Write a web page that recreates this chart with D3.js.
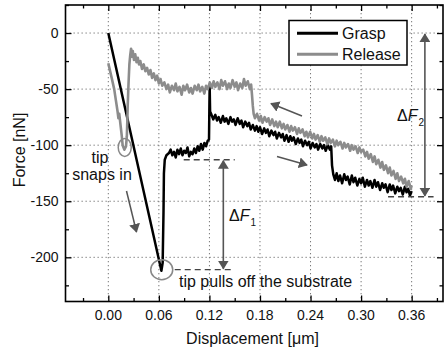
<!DOCTYPE html>
<html><head><meta charset="utf-8">
<script src="https://cdn.jsdelivr.net/npm/d3@7"></script>
<style>
body{margin:0;background:#fff;}
text{font-family:"Liberation Sans",Arial,sans-serif;fill:#111;}
</style></head>
<body>
<svg id="c" width="445" height="353"></svg>
<script>
// ---- data ----
const xTicks = [0.00, 0.06, 0.12, 0.18, 0.24, 0.30, 0.36];
const xMinorTicks = [-0.03, 0.03, 0.09, 0.15, 0.21, 0.27, 0.33, 0.39];
const yTicks = [0, -50, -100, -150, -200];
const yMinorTicks = [25, -25, -75, -125, -175, -225];
const seriesNames = ["Grasp", "Release"];
const seriesColors = ["#000000", "#8c8c8c"];

const graspData = [
 [0,0],[0.063,-212],[0.0645,-205],[0.0655,-160],[0.066,-125],[0.067,-113],[0.069,-109],
 [0.072,-107],[0.074,-104],[0.076,-109],[0.078,-106],[0.080,-111],[0.082,-104],[0.084,-108],[0.086,-103],
 [0.088,-109],[0.090,-105],[0.092,-107],[0.094,-102],[0.096,-110],[0.098,-106],[0.100,-108],[0.102,-103],
 [0.104,-107],[0.106,-101],[0.108,-105],[0.110,-99],[0.112,-104],[0.114,-98],[0.116,-101],[0.118,-96],
 [0.1195,-95],[0.1200,-62],[0.1203,-48],[0.1208,-70],
 [0.122,-72],[0.1245,-77],[0.127,-73],[0.129,-78],[0.131,-75],[0.1335,-80],[0.136,-74],[0.138,-79],
 [0.140,-76],[0.1425,-81],[0.145,-75],[0.147,-79],[0.149,-77],[0.151,-82],[0.1535,-76],[0.156,-81],
 [0.158,-78],[0.160,-84],[0.1625,-79],[0.165,-83],[0.167,-80],[0.169,-86],[0.1715,-82],[0.174,-87],
 [0.176,-83],[0.178,-88],[0.180,-84],[0.1825,-90],[0.185,-85],[0.187,-89],[0.189,-86],[0.191,-92],
 [0.1935,-87],[0.196,-91],[0.198,-88],[0.200,-94],[0.2025,-89],[0.205,-93],[0.207,-90],[0.209,-96],
 [0.2115,-91],[0.214,-97],[0.216,-92],[0.218,-96],[0.220,-93],[0.2225,-99],[0.225,-94],[0.227,-98],
 [0.229,-95],[0.231,-101],[0.2335,-96],[0.236,-100],[0.238,-97],[0.240,-103],[0.2425,-98],[0.245,-102],
 [0.247,-99],[0.249,-104],[0.2515,-99],[0.254,-103],[0.256,-100],[0.258,-105],[0.2605,-100],[0.263,-104],
 [0.2645,-101],
 [0.2655,-118],[0.267,-126],[0.269,-131],[0.271,-125],[0.273,-132],[0.275,-127],[0.2775,-134],[0.280,-126],
 [0.282,-131],[0.284,-128],[0.2865,-135],[0.289,-127],[0.291,-133],[0.293,-129],[0.2955,-136],[0.298,-130],
 [0.300,-134],[0.302,-129],[0.3045,-137],[0.307,-131],[0.309,-136],[0.311,-132],[0.3135,-138],[0.316,-131],
 [0.318,-137],[0.320,-133],[0.3225,-140],[0.325,-134],[0.327,-138],[0.329,-135],[0.3315,-142],[0.334,-135],
 [0.336,-140],[0.338,-136],[0.3405,-143],[0.343,-137],[0.345,-141],[0.347,-138],[0.3495,-144],[0.352,-137],
 [0.354,-142],[0.356,-139],[0.358,-145],[0.360,-141]
];

const releaseData = [
 [0,-27],[0.004,-40],[0.007,-50],[0.009,-60],[0.011,-70],[0.012,-76],[0.013,-72],[0.0145,-82],
 [0.016,-92],[0.017,-100],[0.019,-104],[0.021,-101],[0.022,-92],[0.0225,-80],[0.023,-65],[0.024,-45],
 [0.025,-28],[0.026,-20],[0.027,-14],[0.028,-21],[0.029,-16],[0.0305,-24],[0.032,-19],[0.0335,-26],
 [0.035,-22],[0.0365,-28],[0.038,-25],[0.040,-32],[0.042,-28],[0.044,-34],[0.046,-31],[0.048,-37],
 [0.050,-33],[0.052,-40],[0.054,-36],[0.056,-42],[0.058,-38],[0.060,-45],[0.062,-41],
 [0.064,-47],[0.0665,-44],[0.069,-50],[0.071,-46],[0.073,-53],[0.0755,-47],[0.078,-51],[0.080,-45],
 [0.082,-52],[0.0845,-48],[0.087,-55],[0.089,-47],[0.091,-51],[0.0935,-46],[0.096,-53],[0.098,-49],
 [0.100,-54],[0.1025,-47],[0.105,-51],[0.107,-46],[0.109,-52],[0.1115,-48],[0.114,-54],[0.116,-47],
 [0.118,-50],[0.1205,-44],[0.123,-49],[0.125,-43],[0.127,-48],[0.1295,-44],[0.132,-50],[0.134,-42],
 [0.136,-47],[0.1385,-43],[0.141,-50],[0.143,-45],[0.145,-49],[0.1475,-42],[0.150,-48],[0.152,-44],
 [0.154,-51],[0.1565,-45],[0.159,-49],[0.161,-41],[0.163,-47],[0.1655,-43],[0.168,-50],[0.1695,-46],
 [0.1705,-55],[0.1715,-65],[0.1725,-72],
 [0.174,-76],[0.1765,-72],[0.179,-78],[0.181,-74],[0.183,-80],[0.1855,-75],[0.188,-79],[0.190,-76],
 [0.192,-82],[0.1945,-77],[0.197,-83],[0.199,-79],[0.201,-84],[0.2035,-79],[0.206,-85],[0.208,-81],
 [0.210,-86],[0.2125,-82],[0.215,-88],[0.217,-83],[0.219,-87],[0.2215,-84],[0.224,-90],[0.226,-85],
 [0.228,-89],[0.2305,-86],[0.233,-92],[0.235,-88],[0.237,-93],[0.2395,-88],[0.242,-94],[0.244,-90],
 [0.246,-95],[0.2485,-91],[0.251,-97],[0.253,-92],[0.255,-96],[0.2575,-93],[0.260,-99],[0.262,-94],
 [0.264,-98],[0.2665,-95],[0.269,-101],[0.271,-96],[0.273,-100],[0.2755,-97],[0.278,-103],[0.280,-98],
 [0.282,-102],[0.2845,-99],[0.287,-105],[0.289,-100],[0.291,-104],[0.2935,-101],[0.296,-107],[0.298,-102],
 [0.300,-106],[0.3025,-104],[0.305,-110],[0.307,-106],[0.309,-112],[0.3115,-108],[0.314,-115],[0.316,-110],
 [0.318,-117],[0.3205,-113],[0.323,-120],[0.325,-115],[0.327,-122],[0.3295,-118],[0.332,-125],[0.334,-120],
 [0.336,-127],[0.3385,-123],[0.341,-130],[0.343,-125],[0.345,-132],[0.3475,-128],[0.350,-134],[0.352,-130],
 [0.354,-137],[0.3565,-132],[0.359,-139],[0.360,-136]
];

// annotation anchor values (data units)
const snapPoint = [0.0195, -102];
const pullPoint = [0.0634, -211];
const dF1 = {x: 0.1365, top: -113, bottom: -211, dashFrom: 0.080, dashTo: 0.150};
const dF2 = {x: 0.3757, top: 0, bottom: -146, dashFrom: 0.332, dashTo: 0.386};

// ---- layout ----
const svg = d3.select("#c");
const L = 65.5, R = 443, T = 5, B = 301.5;
const x = d3.scaleLinear().domain([-0.0508, 0.3972]).range([L, R]);
const y = d3.scaleLinear().domain([-239.4, 25]).range([B, T]);

// defs: arrowhead
const defs = svg.append("defs");
defs.append("marker").attr("id","ah2").attr("viewBox","0 0 10 10").attr("refX",9).attr("refY",5)
  .attr("markerWidth",9).attr("markerHeight",11).attr("orient","auto-start-reverse")
  .attr("markerUnits","userSpaceOnUse").attr("preserveAspectRatio","none")
  .append("path").attr("d","M0,0 L10,5 L0,10 Z").attr("fill","#555");

// grid
const grid = svg.append("g").attr("stroke","#777").attr("stroke-width",1).attr("stroke-dasharray","1.3,2.7");
grid.selectAll(".gx").data(xTicks).join("line")
  .attr("x1",d=>x(d)).attr("x2",d=>x(d)).attr("y1",T).attr("y2",B);
grid.selectAll(".gy").data(yTicks).join("line")
  .attr("y1",d=>y(d)).attr("y2",d=>y(d)).attr("x1",L).attr("x2",R);

// axes (ticks inward on all sides)
function tickAxis(axisGen, ticks, size){ return axisGen.tickValues(ticks).tickSize(size).tickFormat(""); }
const gB = svg.append("g").attr("transform",`translate(0,${B})`);
gB.call(tickAxis(d3.axisTop(x), xTicks, 6));
gB.append("g").call(tickAxis(d3.axisTop(x), xMinorTicks, 3.5));
const gT = svg.append("g").attr("transform",`translate(0,${T})`);
gT.call(tickAxis(d3.axisBottom(x), xTicks, 6));
gT.append("g").call(tickAxis(d3.axisBottom(x), xMinorTicks, 3.5));
const gL = svg.append("g").attr("transform",`translate(${L},0)`);
gL.call(tickAxis(d3.axisRight(y), yTicks, 6));
gL.append("g").call(tickAxis(d3.axisRight(y), yMinorTicks, 3.5));
const gR = svg.append("g").attr("transform",`translate(${R},0)`);
gR.call(tickAxis(d3.axisLeft(y), yTicks, 6));
gR.append("g").call(tickAxis(d3.axisLeft(y), yMinorTicks, 3.5));
svg.selectAll(".domain").remove();
svg.selectAll(".tick line").attr("stroke","#000").attr("stroke-width",1.3);

// tick labels
svg.append("g").selectAll("text").data(xTicks).join("text")
  .attr("x",d=>x(d)).attr("y",320).attr("text-anchor","middle").attr("font-size",14)
  .text(d=>d3.format(".2f")(d));
svg.append("g").selectAll("text").data(yTicks).join("text")
  .attr("x",58.5).attr("y",d=>y(d)+5).attr("text-anchor","end").attr("font-size",14)
  .text(d=>d);

// frame
svg.append("rect").attr("x",L).attr("y",T).attr("width",R-L).attr("height",B-T)
  .attr("fill","none").attr("stroke","#000").attr("stroke-width",1.6);

// axis titles
svg.append("text").attr("x",252.5).attr("y",344).attr("text-anchor","middle").attr("font-size",16)
  .text("Displacement [μm]");
svg.append("text").attr("transform","translate(25,150) rotate(-90)").attr("text-anchor","middle")
  .attr("font-size",16).text("Force [nN]");

// series
const line = d3.line().x(d=>x(d[0])).y(d=>y(d[1]));
svg.append("path").datum(graspData).attr("d",line).attr("fill","none")
  .attr("stroke",seriesColors[0]).attr("stroke-width",2.5).attr("stroke-linejoin","round");
svg.append("path").datum(releaseData).attr("d",line).attr("fill","none")
  .attr("stroke",seriesColors[1]).attr("stroke-width",2.6).attr("stroke-linejoin","round");

// annotations
const ann = svg.append("g");
ann.append("ellipse").attr("cx",x(snapPoint[0])).attr("cy",y(snapPoint[1])).attr("rx",6.5).attr("ry",9)
  .attr("fill","none").attr("stroke","#888").attr("stroke-width",1.5);
ann.append("ellipse").attr("cx",x(pullPoint[0])).attr("cy",y(pullPoint[1])).attr("rx",11).attr("ry",10)
  .attr("fill","none").attr("stroke","#888").attr("stroke-width",1.5);

ann.append("text").attr("x",100).attr("y",163).attr("text-anchor","middle").attr("font-size",16).text("tip");
ann.append("text").attr("x",102).attr("y",180).attr("text-anchor","middle").attr("font-size",16).text("snaps in");
ann.append("text").attr("x",179).attr("y",287).attr("font-size",16).text("tip pulls off the substrate");

// direction arrows
ann.append("line").attr("x1",126.5).attr("y1",191).attr("x2",136.5).attr("y2",232)
  .attr("stroke","#555").attr("stroke-width",1.5).attr("marker-end","url(#ah2)");
ann.append("line").attr("x1",302).attr("y1",116).attr("x2",271).attr("y2",103.5)
  .attr("stroke","#555").attr("stroke-width",1.5).attr("marker-end","url(#ah2)");
ann.append("line").attr("x1",277).attr("y1",156.5).attr("x2",307).attr("y2",165)
  .attr("stroke","#555").attr("stroke-width",1.5).attr("marker-end","url(#ah2)");

// delta F markers
const dash = ann.append("g").attr("stroke","#444").attr("stroke-width",1.3).attr("stroke-dasharray","6,4");
dash.append("line").attr("x1",x(pullPoint[0])+13).attr("x2",x(dF1.dashTo)).attr("y1",y(dF1.bottom)).attr("y2",y(dF1.bottom));
dash.append("line").attr("x1",x(dF1.dashFrom)+8).attr("x2",x(dF1.dashTo)).attr("y1",y(dF1.top)).attr("y2",y(dF1.top));
dash.append("line").attr("x1",x(dF2.dashFrom)).attr("x2",x(dF2.dashTo)).attr("y1",y(dF2.bottom)).attr("y2",y(dF2.bottom));
ann.append("line").attr("x1",x(dF1.x)).attr("x2",x(dF1.x)).attr("y1",y(dF1.top)+1).attr("y2",y(dF1.bottom)-1)
  .attr("stroke","#555").attr("stroke-width",1.6).attr("marker-start","url(#ah2)").attr("marker-end","url(#ah2)");
ann.append("line").attr("x1",x(dF2.x)).attr("x2",x(dF2.x)).attr("y1",y(dF2.top)+1).attr("y2",y(dF2.bottom)-1)
  .attr("stroke","#555").attr("stroke-width",1.6).attr("marker-start","url(#ah2)").attr("marker-end","url(#ah2)");

function deltaLabel(px, py, sub){
  const t = ann.append("text").attr("x",px).attr("y",py).attr("font-size",16);
  t.append("tspan").text("Δ");
  t.append("tspan").attr("font-style","italic").text("F");
  t.append("tspan").attr("font-size",10).attr("dy",5).attr("dx",1).text(sub);
}
deltaLabel(229, 221, "1");
deltaLabel(397, 121, "2");

// legend
const lg = svg.append("g");
lg.append("rect").attr("x",289).attr("y",20.5).attr("width",118).attr("height",44.5)
  .attr("fill","#fff").attr("stroke","#000").attr("stroke-width",1.5);
seriesNames.forEach((n,i)=>{
  const yy = 33.3 + i*21;
  lg.append("line").attr("x1",297).attr("x2",338).attr("y1",yy).attr("y2",yy)
    .attr("stroke",seriesColors[i]).attr("stroke-width",3);
  lg.append("text").attr("x",342).attr("y",yy+6).attr("font-size",16).text(n);
});
</script>
</body></html>
